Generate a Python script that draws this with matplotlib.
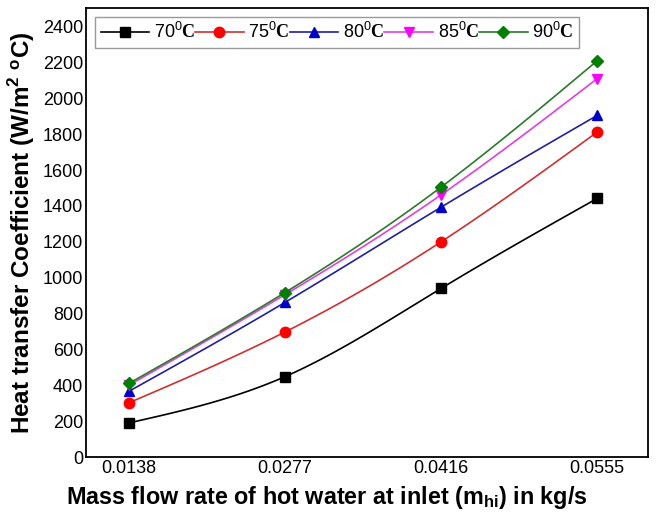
import numpy as np
import matplotlib
matplotlib.use("Agg")
import matplotlib.pyplot as plt

# mass flow rate of hot water (kg/s)
flow = [0.0138, 0.0277, 0.0416, 0.0555]
flow_labels = ['0.0138', '0.0277', '0.0416', '0.0555']

# heat transfer coefficient (W/m2 C) for each inlet temperature
h_70 = [190, 448, 940, 1442]
h_75 = [302, 697, 1200, 1812]
h_80 = [366, 862, 1393, 1905]
h_85 = [400, 905, 1462, 2110]
h_90 = [410, 917, 1505, 2210]

temps = ['70', '75', '80', '85', '90']
colors = ['black', 'red', 'mediumblue', 'magenta', 'green']
line_colors = ['black', '#d03030', '#2020a0', '#e040e0', '#2a7a2a']
markers = ['s', 'o', '^', 'v', 'D']
msizes = [6.5, 7.5, 7.5, 7.5, 6.5]


def natural_spline(y, n=30):
    # natural cubic spline through equally spaced points, n steps per interval
    y = np.asarray(y, dtype=float)
    A = np.array([[4.0, 1.0], [1.0, 4.0]])
    b = 6 * np.array([y[0] - 2 * y[1] + y[2], y[1] - 2 * y[2] + y[3]])
    M = np.concatenate([[0.0], np.linalg.solve(A, b), [0.0]])
    out = []
    for i in range(3):
        t = np.linspace(0, 1, n + 1)[:-1] if i < 2 else np.linspace(0, 1, n + 1)
        s = (M[i] * (1 - t) ** 3 / 6 + M[i + 1] * t ** 3 / 6
             + (y[i] - M[i] / 6) * (1 - t) + (y[i + 1] - M[i + 1] / 6) * t)
        out.append(s)
    return np.concatenate(out)


plt.rcParams['font.family'] = ['Liberation Sans', 'DejaVu Sans']
plt.rcParams['mathtext.fontset'] = 'custom'
plt.rcParams['mathtext.rm'] = 'Liberation Sans'
plt.rcParams['mathtext.sf'] = 'Liberation Sans:bold'
plt.rcParams['mathtext.bf'] = 'Liberation Serif:bold'

fig = plt.figure(figsize=(6.57, 5.17), dpi=100)
ax = fig.add_axes([0.131, 0.116, 0.855, 0.869])

series = [h_70, h_75, h_80, h_85, h_90]
xs = np.linspace(flow[0], flow[-1], 91)
for i in range(5):
    ys = natural_spline(series[i])
    ax.plot(xs, ys, color=line_colors[i], lw=1.2, marker=markers[i], markevery=30,
            ms=msizes[i], mfc=colors[i], mec=colors[i],
            label=temps[i] + r'$^{\mathrm{0}}\mathbf{C}$')

ax.set_xlim(0.0100, 0.0600)
ax.set_ylim(0, 2505)
ax.set_xticks(flow)
ax.set_xticklabels(flow_labels)
ax.set_yticks(range(0, 2401, 200))
ax.tick_params(length=0, labelsize=13, pad=2)
for s in ax.spines.values():
    s.set_linewidth(1.3)

ax.set_xlabel(r'Mass flow rate of hot water at inlet (m$_{\mathsf{hi}}$) in kg/s',
              fontsize=16.8, fontweight='bold')
ax.xaxis.set_label_coords(0.429, -0.06)
ax.set_ylabel(r'Heat transfer Coefficient (W/m$^{\mathsf{2}}$ $\mathsf{^oC}$)',
              fontsize=17.5, fontweight='bold', labelpad=4)

leg = ax.legend(loc='upper left', ncol=5, fontsize=13, frameon=True, fancybox=False,
                edgecolor='gray', handlelength=2.7, handletextpad=0.25,
                columnspacing=0.0, borderpad=0.3, borderaxespad=0.5)
leg.get_frame().set_linewidth(1.0)

plt.savefig('out.png', dpi=100)
